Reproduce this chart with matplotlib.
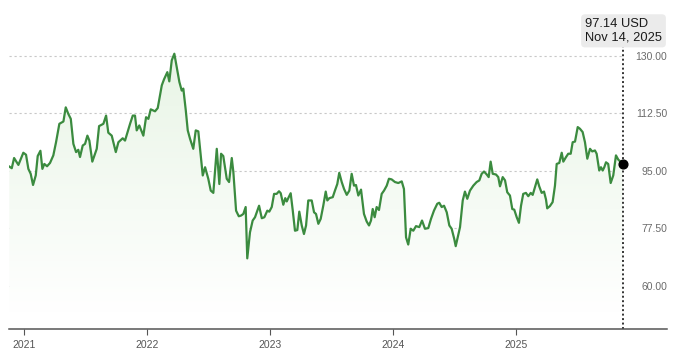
import numpy as np
import pandas as pd
import matplotlib
matplotlib.use('Agg')
import matplotlib.pyplot as plt
import matplotlib.dates as mdates

plt.rcParams['font.family'] = ['Liberation Sans', 'DejaVu Sans']

# time in decimal years, price in USD (roughly weekly)
t_year = [
    2020.880, 2020.900, 2020.919, 2020.954, 2020.994, 2021.016, 2021.035, 2021.054,
    2021.073, 2021.095, 2021.111, 2021.133, 2021.149, 2021.165, 2021.187, 2021.211,
    2021.238, 2021.260, 2021.287, 2021.320, 2021.339, 2021.360, 2021.380, 2021.401,
    2021.423, 2021.441, 2021.455, 2021.477, 2021.496, 2021.515, 2021.531, 2021.555,
    2021.591, 2021.610, 2021.645, 2021.667, 2021.685, 2021.713, 2021.746, 2021.767,
    2021.802, 2021.821, 2021.862, 2021.884, 2021.902, 2021.916, 2021.937, 2021.970,
    2021.992, 2022.011, 2022.030, 2022.065, 2022.087, 2022.120, 2022.138, 2022.165,
    2022.181, 2022.201, 2022.222, 2022.241, 2022.263, 2022.282, 2022.295, 2022.315,
    2022.331, 2022.350, 2022.376, 2022.396, 2022.417, 2022.431, 2022.453, 2022.472,
    2022.498, 2022.518, 2022.539, 2022.567, 2022.588, 2022.602, 2022.620, 2022.648,
    2022.667, 2022.689, 2022.702, 2022.724, 2022.746, 2022.764, 2022.783, 2022.802,
    2022.815, 2022.837, 2022.859, 2022.878, 2022.911, 2022.933, 2022.954, 2022.978,
    2022.994, 2023.014, 2023.033, 2023.054, 2023.073, 2023.087, 2023.108, 2023.124,
    2023.136, 2023.152, 2023.168, 2023.185, 2023.203, 2023.222, 2023.238, 2023.258,
    2023.276, 2023.293, 2023.311, 2023.339, 2023.358, 2023.374, 2023.393, 2023.412,
    2023.433, 2023.453, 2023.466, 2023.482, 2023.510, 2023.528, 2023.547, 2023.563,
    2023.583, 2023.602, 2023.624, 2023.645, 2023.664, 2023.683, 2023.699, 2023.718,
    2023.740, 2023.764, 2023.786, 2023.805, 2023.821, 2023.835, 2023.851, 2023.867,
    2023.886, 2023.908, 2023.927, 2023.949, 2023.967, 2023.989, 2024.016, 2024.043,
    2024.071, 2024.089, 2024.106, 2024.124, 2024.144, 2024.165, 2024.187, 2024.214,
    2024.236, 2024.260, 2024.287, 2024.309, 2024.333, 2024.360, 2024.376, 2024.396,
    2024.415, 2024.437, 2024.458, 2024.477, 2024.498, 2024.510, 2024.526, 2024.545,
    2024.567, 2024.585, 2024.604, 2024.626, 2024.653, 2024.680, 2024.702, 2024.721,
    2024.740, 2024.762, 2024.778, 2024.794, 2024.811, 2024.837, 2024.856, 2024.870,
    2024.892, 2024.911, 2024.929, 2024.951, 2024.970, 2024.986, 2025.006, 2025.024,
    2025.041, 2025.059, 2025.081, 2025.100, 2025.120, 2025.136, 2025.154, 2025.173,
    2025.189, 2025.209, 2025.228, 2025.244, 2025.254, 2025.276, 2025.298, 2025.317,
    2025.331, 2025.352, 2025.372, 2025.385, 2025.407, 2025.425, 2025.445, 2025.461,
    2025.480, 2025.502, 2025.520, 2025.542, 2025.561, 2025.580, 2025.602, 2025.620,
    2025.642, 2025.656, 2025.677, 2025.691, 2025.705, 2025.718, 2025.732, 2025.750,
    2025.770, 2025.791, 2025.813, 2025.832, 2025.869,
]
price = [
    96.3, 95.8, 98.9, 96.8, 100.5, 99.9, 95.6, 94.1,
    90.7, 93.6, 99.5, 101.1, 95.6, 97.1, 96.4, 97.4,
    99.7, 103.7, 109.3, 110.0, 114.3, 112.3, 110.8, 103.2,
    100.7, 101.4, 99.2, 102.7, 103.2, 105.7, 104.2, 97.8,
    101.7, 108.6, 109.3, 111.8, 106.6, 105.7, 100.7, 103.7,
    104.9, 104.2, 109.3, 111.8, 111.8, 107.3, 108.8, 105.7,
    111.3, 110.8, 113.7, 113.1, 114.1, 121.0, 122.8, 125.0,
    122.2, 128.6, 130.6, 126.6, 122.0, 119.4, 120.0, 113.4,
    107.3, 104.7, 101.7, 107.3, 107.0, 101.7, 93.6, 96.1,
    92.6, 89.0, 88.3, 101.7, 91.0, 100.2, 99.5, 92.6,
    91.6, 98.9, 94.6, 82.9, 81.2, 81.4, 81.9, 84.0,
    68.4, 76.3, 79.9, 80.9, 84.4, 80.6, 80.9, 82.9,
    82.6, 84.0, 88.0, 88.0, 88.8, 88.2, 84.7, 86.7,
    85.7, 87.0, 88.2, 82.9, 76.8, 77.0, 82.6, 78.4,
    75.8, 78.4, 86.0, 86.0, 82.4, 81.9, 78.9, 80.4,
    84.4, 88.7, 86.0, 86.7, 87.0, 89.0, 91.0, 94.4,
    91.6, 89.5, 87.7, 89.0, 94.1, 90.5, 90.7, 87.5,
    89.3, 81.9, 79.6, 78.4, 79.9, 83.4, 80.9, 84.0,
    83.1, 88.0, 89.0, 90.5, 92.6, 92.4, 91.6, 91.3,
    91.8, 89.5, 74.8, 72.6, 77.4, 76.8, 78.2, 77.9,
    79.9, 77.4, 77.6, 80.4, 82.9, 85.0, 85.3, 84.0,
    84.4, 82.4, 78.4, 77.4, 74.3, 72.1, 74.8, 77.9,
    86.0, 88.7, 86.5, 89.0, 90.5, 91.6, 92.1, 94.1,
    94.8, 93.9, 93.1, 97.8, 94.1, 93.9, 93.1, 90.3,
    93.1, 92.1, 88.5, 87.5, 83.4, 83.2, 80.9, 79.2,
    84.4, 88.0, 88.3, 87.3, 88.3, 87.7, 90.0, 92.4,
    90.3, 88.3, 88.7, 86.3, 83.6, 84.3, 85.5, 90.5,
    97.1, 97.4, 100.5, 97.8, 99.2, 100.2, 100.2, 103.7,
    103.9, 108.3, 107.8, 106.8, 103.7, 98.7, 101.7, 100.9,
    101.2, 100.2, 95.1, 96.1, 95.1, 96.1, 97.6, 97.1,
    91.3, 93.6, 99.7, 98.4, 97.14,
]
last_label = '97.14 USD\nNov 14, 2025'
y_ticks = [60, 77.5, 95, 112.5, 130]
x_years = [2021, 2022, 2023, 2024, 2025]


def to_date(years):
    years = np.asarray(years, dtype=float)
    return pd.Timestamp('2021-01-01') + pd.to_timedelta((years - 2021) * 365.25, unit='D')


dates = to_date(t_year)
x_right = to_date([2026.228])[0]
y_lo, y_hi = 46.93, 146.93

fig = plt.figure(figsize=(6.8, 3.57), dpi=100)
ax = fig.add_axes([9.3 / 680, 1 - 329 / 357, (667 - 9.3) / 680, 329 / 357])

# light green fade under the line
poly = ax.fill_between(dates, price, y_lo, color='none', lw=0)
top_c = np.array([0.91, 0.96, 0.90])
bot_c = np.array([1.0, 1.0, 1.0])
k = np.linspace(0, 1, 200)[:, None, None]
grad = bot_c * (1 - k) + top_c * k
x0 = mdates.date2num(dates[0])
x1 = mdates.date2num(dates[-1])
im = ax.imshow(grad, extent=[x0, x1, y_lo + 5, 132], origin='lower',
               aspect='auto', zorder=1, interpolation='bilinear')
im.set_clip_path(poly.get_paths()[0], transform=ax.transData)

ax.hlines(y_ticks, dates[0], dates[-1], colors='#c8c8c8',
          linestyles=(0, (2, 2.5)), lw=0.8, zorder=0)
ax.vlines(dates[-1], y_lo, 140, colors='#333333', linestyles=(0, (1, 1.3)),
          lw=1.4, zorder=2)

ax.plot(dates, price, color='#3b8b3f', lw=1.6, solid_joinstyle='round', zorder=3)
ax.plot(dates[-1], price[-1], 'o', color='black', ms=6.3, zorder=5)

ax.set_xlim(dates[0], x_right)
ax.set_ylim(y_lo, y_hi)

ax.set_yticks(y_ticks)
ax.set_yticklabels(['%.2f' % v for v in y_ticks])
ax.yaxis.tick_right()
ax.tick_params(axis='y', length=0, pad=0, labelsize=7.5, labelcolor='#6b6b6b')
for lbl in ax.get_yticklabels():
    lbl.set_ha('right')

ax.set_xticks(to_date(x_years))
ax.set_xticklabels([str(y) for y in x_years])
ax.tick_params(axis='x', length=4, width=0.8, color='#555555', labelsize=7.5,
               labelcolor='#555555', pad=4)

for s in ['top', 'left', 'right']:
    ax.spines[s].set_visible(False)
ax.spines['bottom'].set_color('#555555')
ax.spines['bottom'].set_linewidth(1.1)

fig.text(585 / 680, 1 - 30.85 / 357, last_label, ha='left', va='center',
         fontsize=9.3, color='#1a1a1a', linespacing=1.15,
         bbox=dict(boxstyle='round,pad=0.3,rounding_size=0.3', fc='#ebebeb', ec='none'))

fig.savefig('out.png', dpi=100)
